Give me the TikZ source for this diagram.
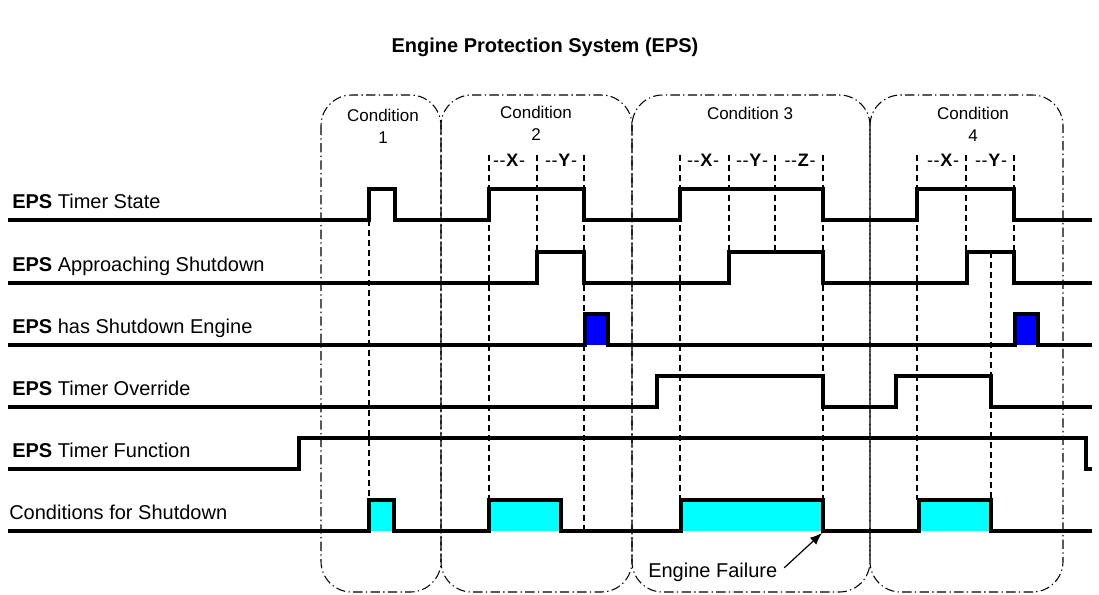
\documentclass[tikz,border=0pt]{standalone}
\usepackage{fontspec}
\setmainfont{Liberation Sans}
\usetikzlibrary{arrows.meta}
\definecolor{pulsecyan}{RGB}{0,255,255}
\definecolor{pulseblue}{RGB}{0,0,255}
\begin{document}
\begin{tikzpicture}[x=0.75pt,y=-0.75pt,
  sig/.style={line width=2.5pt, line join=miter},
  vdash/.style={line width=0.8pt, dash pattern=on 4.5pt off 3pt},
  condbox/.style={line width=0.8pt, dash pattern=on 7pt off 2.5pt on 1pt off 2.5pt, rounded corners=23pt},
  lbl/.style={anchor=base west, inner sep=0pt, font=\fontsize{15}{18}\selectfont},
  condlbl/.style={align=center, inner sep=0pt, font=\fontsize{12.75}{16.5}\selectfont},
  seg/.style={inner sep=0pt, font=\fontsize{13.5}{15}\selectfont},
  bluefill/.style={fill=pulseblue},
  cyanfill/.style={fill=pulsecyan}]
\useasboundingbox (0,0) rectangle (1099,594);

% title
\node[font=\bfseries\fontsize{15}{18}\selectfont, inner sep=0pt] (title) at (545,47) {Engine Protection System (EPS)};

% condition boxes
\draw[condbox] (321,95) rectangle (441,592);
\draw[condbox] (441,95) rectangle (632,592);
\draw[condbox] (632,95) rectangle (870,592);
\draw[condbox] (870,95) rectangle (1063,592);

\node[condlbl] (c1) at (383,126) {Condition\\1};
\node[condlbl] (c2) at (536,123) {Condition\\2};
\node[condlbl] (c3) at (750,113) {Condition 3};
\node[condlbl] (c4) at (973,124) {Condition\\4};

% segment labels
\newcommand{\segtext}[1]{{-}\kern0.5pt{-}\kern0.5pt\textbf{#1}\kern0.5pt{-}}
\node[seg] (x2) at (509,160) {\segtext{X}};
\node[seg] (y2) at (561,160) {\segtext{Y}};
\node[seg] (x3) at (703,160) {\segtext{X}};
\node[seg] (y3) at (752,160) {\segtext{Y}};
\node[seg] (z3) at (800,160) {\segtext{Z}};
\node[seg] (x4) at (943,160) {\segtext{X}};
\node[seg] (y4) at (991,160) {\segtext{Y}};

% fills
\fill[cyanfill] (369,500) rectangle (394,531);
\fill[cyanfill] (489,500) rectangle (561,531);
\fill[cyanfill] (681,500) rectangle (823,531);
\fill[cyanfill] (919,500) rectangle (991,531);
\fill[bluefill] (585,314) rectangle (608,345);
\fill[bluefill] (1015,314) rectangle (1038,345);

% dashed verticals
\draw[vdash] (369,220) -- (369,500);
\draw[vdash] (489,155) -- (489,500);
\draw[vdash] (537,155) -- (537,252);
\draw[vdash] (584,155) -- (584,531);
\draw[vdash] (680,155) -- (680,500);
\draw[vdash] (729,155) -- (729,252);
\draw[vdash] (775,155) -- (775,252);
\draw[vdash] (823,155) -- (823,531);
\draw[vdash] (917,155) -- (917,500);
\draw[vdash] (966,155) -- (966,252);
\draw[vdash] (991,252) -- (991,500);
\draw[vdash] (1014,155) -- (1014,252);

% row labels
\node[lbl] (l1) at (12,208) {\textbf{EPS} Timer State};
\node[lbl] (l2) at (12,271) {\textbf{EPS} Approaching Shutdown};
\node[lbl] (l3) at (12,333) {\textbf{EPS} has Shutdown Engine};
\node[lbl] (l4) at (12,395) {\textbf{EPS} Timer Override};
\node[lbl] (l5) at (12,457) {\textbf{EPS} Timer Function};
\node[lbl] (l6) at (9,519) {Conditions for Shutdown};

% signals
\draw[sig] (8,220) -- (369,220) -- (369,189) -- (395,189) -- (395,220) -- (489,220) -- (489,189) -- (584,189) -- (584,220) -- (680,220) -- (680,189) -- (823,189) -- (823,220) -- (917,220) -- (917,189) -- (1014,189) -- (1014,220) -- (1092,220);
\draw[sig] (8,283) -- (537,283) -- (537,252) -- (584,252) -- (584,283) -- (729,283) -- (729,252) -- (823,252) -- (823,283) -- (967,283) -- (967,252) -- (1014,252) -- (1014,283) -- (1092,283);
\draw[sig] (8,345) -- (585,345) -- (585,314) -- (608,314) -- (608,345) -- (1015,345) -- (1015,314) -- (1038,314) -- (1038,345) -- (1092,345);
\draw[sig] (8,407) -- (657,407) -- (657,376) -- (823,376) -- (823,407) -- (896,407) -- (896,376) -- (991,376) -- (991,407) -- (1092,407);
\draw[sig] (8,469) -- (299,469) -- (299,438) -- (1086,438) -- (1086,469) -- (1092,469);
\draw[sig] (8,531) -- (369,531) -- (369,500) -- (394,500) -- (394,531) -- (489,531) -- (489,500) -- (561,500) -- (561,531) -- (681,531) -- (681,500) -- (823,500) -- (823,531) -- (919,531) -- (919,500) -- (991,500) -- (991,531) -- (1092,531);

% engine failure
\node[lbl] (ef) at (648,577) {Engine Failure};
\coordinate (efpt) at (822,533);
\draw[line width=0.9pt, -{Latex[length=9pt,width=7pt]}] (ef.east) ++(5pt,3pt) -- (efpt);
\end{tikzpicture}
\end{document}
